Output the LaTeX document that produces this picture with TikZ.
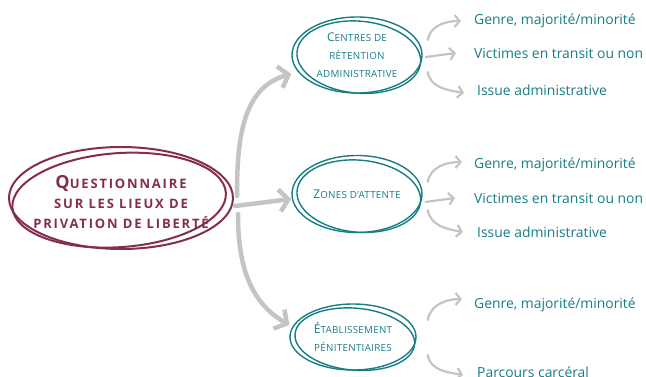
\documentclass[tikz,border=0pt]{standalone}
\usepackage{fontspec}
\setmainfont{Open Sans}
\newfontfamily\hubfont[LetterSpace=14]{Open Sans}
\newfontfamily\plfont[LetterSpace=3]{Open Sans}
\usetikzlibrary{arrows.meta,shapes.geometric}
\definecolor{teal1}{HTML}{177D84}
\definecolor{wine}{HTML}{852C50}
\definecolor{arrgray}{HTML}{C4C4C4}
% small-caps look built from two sizes
\newcommand\hubcap[1]{{\fontsize{18}{20}\selectfont #1}}
\newcommand\plcap[1]{{\fontsize{12}{18}\selectfont #1}}
\tikzset{
  hub/.style={ellipse, draw=wine, line width=2pt, inner sep=0pt,
    minimum width=224pt, minimum height=102pt},
  hubtext/.style={text=wine, align=center, inner sep=0pt,
    font=\hubfont\bfseries\fontsize{13}{20}\selectfont},
  place/.style={ellipse, draw=teal1, line width=1.4pt, text=teal1, align=center,
    inner sep=0pt, font=\plfont\fontsize{9.8}{18}\selectfont},
  leaf/.style={anchor=west, text=teal1, font=\fontsize{13.9}{16}\selectfont, inner sep=0pt},
  bigarrow/.style={draw=arrgray, line width=4.5pt, line cap=round,
    -{Straight Barb[length=9pt,width=22pt]}},
  smallarrow/.style={draw=arrgray, line width=2.2pt, line cap=round,
    -{Straight Barb[length=5pt,width=12pt]}},
}
\begin{document}
\begin{tikzpicture}[x=1pt,y=1pt]
\useasboundingbox (0,0) rectangle (646,-376);

% central topic: double hand-drawn outline, then its text
\node[hub] (q) at (121,-198) {};
\draw[wine, line width=2pt, rotate around={4:(q.center)}] ([shift={(-2pt,-2pt)}]q.center) ellipse (107pt and 47pt);
\node[hubtext] (qt) at (121,-202)
  {\hubcap{Q}UESTIONNAIRE\\ SUR LES LIEUX DE\\ PRIVATION DE LIBERTÉ};

% places of detention
\node[place, minimum width=130pt, minimum height=76pt] (c1) at (357,-55)
  {\plcap{C}ENTRES DE\\ RÉTENTION\\ ADMINISTRATIVE};
\node[place, minimum width=130pt, minimum height=77pt] (c2) at (357,-194)
  {\plcap{Z}ONES D’ATTENTE};
\node[place, minimum width=126pt, minimum height=66pt] (c3) at (353,-337)
  {\plcap{É}TABLISSEMENT\\ PÉNITENTIAIRES};
\foreach \n/\a/\b in {c1/62/36, c2/62/36, c3/60/31}
  \draw[teal1, line width=1.4pt, rotate around={-5:(\n.center)}] ([shift={(2pt,-2pt)}]\n.center) ellipse (\a pt and \b pt);

% details
\node[leaf] (l11) at (474,-21) {Genre, majorité/minorité};
\node[leaf] (l12) at (474,-53) {Victimes en transit ou non};
\node[leaf] (l13) at (477,-90) {Issue administrative};
\node[leaf] (l21) at (474,-165) {Genre, majorité/minorité};
\node[leaf] (l22) at (474,-198) {Victimes en transit ou non};
\node[leaf] (l23) at (477,-232) {Issue administrative};
\node[leaf] (l31) at (474,-305) {Genre, majorité/minorité};
\node[leaf] (l32) at (477,-372) {Parcours carcéral};

% main branches
\draw[bigarrow] ([shift={(3pt,2pt)}]q.east) to[out=90,in=195] ([yshift=-19pt]c1.west);
\draw[bigarrow] ([shift={(1pt,-8pt)}]q.east) -- ([yshift=-5pt]c2.west);
\draw[bigarrow] ([shift={(4pt,-16pt)}]q.east) to[out=-90,in=150] ([yshift=12pt]c3.west);

% detail branches
\draw[smallarrow] ([shift={(5pt,15pt)}]c1.east) to[out=80,in=180] ([xshift=-13pt]l11.west);
\draw[smallarrow] ([shift={(3pt,-2pt)}]c1.east) -- ([xshift=-18pt]l12.west);
\draw[smallarrow] ([shift={(5pt,-17pt)}]c1.east) to[out=-80,in=170] ([shift={(-13pt,-3pt)}]l13.west);

\draw[smallarrow] ([shift={(5pt,12pt)}]c2.east) to[out=80,in=180] ([shift={(-12pt,3pt)}]l21.west);
\draw[smallarrow] ([shift={(3pt,-8pt)}]c2.east) -- ([xshift=-19pt]l22.west);
\draw[smallarrow] ([shift={(5pt,-16pt)}]c2.east) to[out=-80,in=170] ([xshift=-14pt]l23.west);

\draw[smallarrow] ([shift={(11pt,17pt)}]c3.east) to[out=80,in=180] ([shift={(-12pt,6pt)}]l31.west);
\draw[smallarrow] ([shift={(11pt,-18pt)}]c3.east) to[out=-80,in=170] ([shift={(-14pt,-3pt)}]l32.west);
\end{tikzpicture}
\end{document}
